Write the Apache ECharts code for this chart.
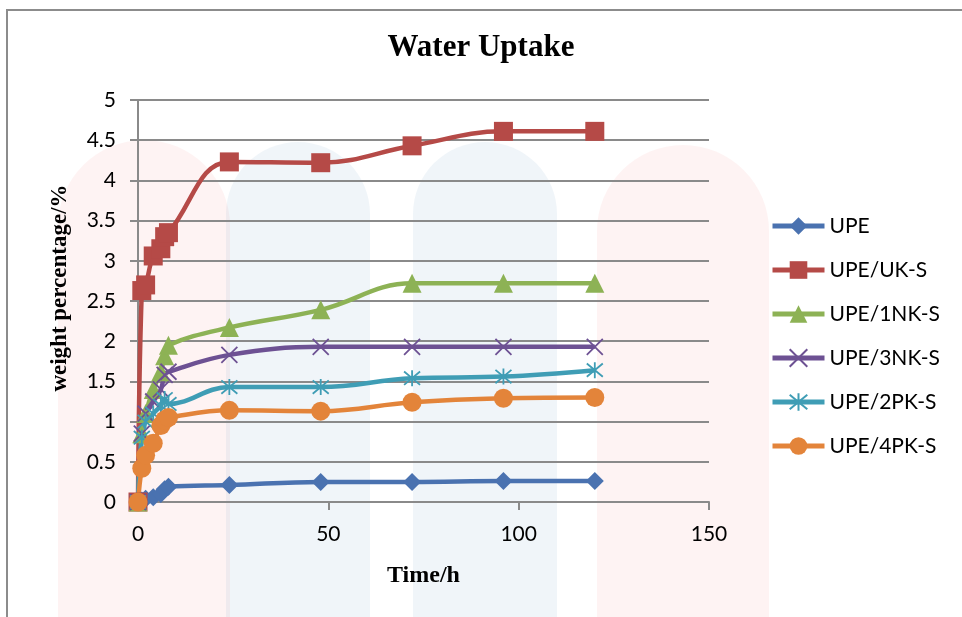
<!DOCTYPE html>
<html>
<head>
<meta charset="utf-8">
<style>
  html, body { margin: 0; padding: 0; background: #ffffff; }
  #chart { width: 962px; height: 617px; }
</style>
<script src="https://cdn.jsdelivr.net/npm/echarts@6/dist/echarts.min.js"></script>
</head>
<body>
<div id="chart"></div>
<script>
// Immersion time (hours) shared by every sample
const times = [0, 1, 2, 4, 6, 7, 8, 24, 48, 72, 96, 120];

// Weight gain (%) per sample
const upe    = [0, 0.02, 0.04, 0.06, 0.10, 0.16, 0.19, 0.21, 0.25, 0.25, 0.26, 0.26];
const upeUK  = [0, 2.63, 2.70, 3.06, 3.15, 3.30, 3.35, 4.23, 4.22, 4.43, 4.61, 4.61];
const upe1NK = [0, 0.85, 1.10, 1.40, 1.62, 1.82, 1.95, 2.17, 2.39, 2.72, 2.72, 2.72];
const upe3NK = [0, 0.85, 1.10, 1.25, 1.40, 1.58, 1.62, 1.83, 1.93, 1.93, 1.93, 1.93];
const upe2PK = [0, 0.80, 1.00, 1.10, 1.20, 1.28, 1.22, 1.43, 1.43, 1.54, 1.56, 1.64];
const upe4PK = [0, 0.42, 0.58, 0.73, 0.95, 1.02, 1.05, 1.14, 1.13, 1.24, 1.29, 1.30];

const seriesNames = ['UPE', 'UPE/UK-S', 'UPE/1NK-S', 'UPE/3NK-S', 'UPE/2PK-S', 'UPE/4PK-S'];

const xTicks = { min: 0, max: 150, step: 50 };
const yTicks = { min: 0, max: 5, step: 0.5 };

const colors = ['#4a72b0', '#b54a47', '#8db255', '#6d5193', '#3f9db5', '#e3843a'];

const pairs = (ys) => times.map((t, i) => [t, ys[i]]);

const crossPath = 'path://M0,0L10,10M10,0L0,10';
const starPath = 'path://M0,0L10,10M10,0L0,10M5,-1L5,11';

function makeSeries(name, ys, color, symbol, size, stroke) {
  const itemStyle = stroke
    ? { color: color, borderColor: color, borderWidth: 1.8 }
    : { color: color };
  return {
    name: name,
    type: 'line',
    data: pairs(ys),
    smooth: 0.4,
    symbol: symbol,
    symbolSize: size,
    showAllSymbol: true,
    lineStyle: { color: color, width: 4.5 },
    itemStyle: itemStyle,
    emphasis: { disabled: true },
    animation: false
  };
}

const chart = echarts.init(document.getElementById('chart'), null, { renderer: 'canvas' });

const bgShape = (x, y, w, h, r, fill) => ({
  type: 'rect',
  z: -10,
  silent: true,
  shape: { x: x, y: y, width: w, height: h, r: [r, r, 0, 0] },
  style: { fill: fill }
});

chart.setOption({
  backgroundColor: '#ffffff',
  animation: false,
  graphic: {
    elements: [
      bgShape(58, 140, 172, 480, 86, 'rgba(235, 90, 90, 0.07)'),
      bgShape(226, 142, 144, 480, 72, 'rgba(70, 130, 180, 0.08)'),
      bgShape(413, 142, 144, 480, 72, 'rgba(70, 130, 180, 0.08)'),
      bgShape(597, 145, 172, 480, 86, 'rgba(235, 90, 90, 0.07)'),
      {
        type: 'polyline',
        silent: true,
        shape: { points: [[7, 617], [7, 10], [962, 10]] },
        style: { stroke: '#8c8c8c', lineWidth: 2, fill: null }
      }
    ]
  },
  title: {
    text: 'Water Uptake',
    left: 'center',
    top: 27,
    textStyle: {
      fontFamily: 'Liberation Serif',
      fontWeight: 'bold',
      fontSize: 31,
      color: '#000000'
    }
  },
  grid: { left: 138, right: 253, top: 100, bottom: 115, containLabel: false },
  legend: {
    orient: 'vertical',
    left: 770,
    top: 215,
    padding: 0,
    itemWidth: 52,
    itemHeight: 22,
    itemGap: 22,
    lineStyle: { width: 5 },
    textStyle: {
      fontFamily: 'Lato',
      fontSize: 21,
      color: '#000000',
      lineHeight: 22
    },
    data: seriesNames
  },
  xAxis: {
    type: 'value',
    min: xTicks.min,
    max: xTicks.max,
    interval: xTicks.step,
    name: 'Time/h',
    nameLocation: 'middle',
    nameGap: 62,
    nameTextStyle: {
      fontFamily: 'Liberation Serif',
      fontWeight: 'bold',
      fontSize: 24,
      color: '#000000'
    },
    axisLine: { show: true, lineStyle: { color: '#8a8a8a', width: 2 } },
    axisTick: { show: true, length: 8, lineStyle: { color: '#8a8a8a', width: 2 } },
    axisLabel: { margin: 22, fontFamily: 'Lato', fontSize: 21, color: '#000000' },
    splitLine: { show: false }
  },
  yAxis: {
    type: 'value',
    min: yTicks.min,
    max: yTicks.max,
    interval: yTicks.step,
    name: 'weight percentage/%',
    nameLocation: 'middle',
    nameGap: 66,
    nameTextStyle: {
      fontFamily: 'Liberation Serif',
      fontWeight: 'bold',
      fontSize: 23,
      color: '#000000',
      padding: [0, 0, 0, 26]
    },
    axisLine: { show: true, lineStyle: { color: '#8a8a8a', width: 2 } },
    axisTick: { show: true, length: 8, lineStyle: { color: '#8a8a8a', width: 2 } },
    axisLabel: { margin: 22, fontFamily: 'Lato', fontSize: 21, color: '#000000' },
    splitLine: { show: true, lineStyle: { color: '#8a8a8a', width: 2 } }
  },
  series: [
    makeSeries(seriesNames[0], upe,    colors[0], 'diamond',  18, false),
    makeSeries(seriesNames[1], upeUK,  colors[1], 'rect',     19, false),
    makeSeries(seriesNames[2], upe1NK, colors[2], 'triangle', 19, false),
    makeSeries(seriesNames[3], upe3NK, colors[3], crossPath,  16, true),
    makeSeries(seriesNames[4], upe2PK, colors[4], starPath,   16, true),
    makeSeries(seriesNames[5], upe4PK, colors[5], 'circle',   19, false)
  ]
});
</script>
</body>
</html>
